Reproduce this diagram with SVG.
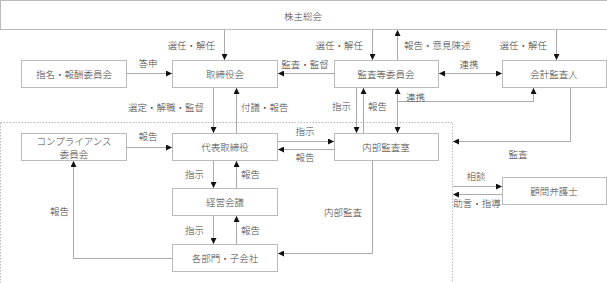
<svg xmlns="http://www.w3.org/2000/svg" width="607" height="283" viewBox="0 0 607 283">
<defs>
<marker id="ah" markerUnits="userSpaceOnUse" markerWidth="6" markerHeight="6" refX="6" refY="3" orient="auto">
<path d="M0,0 L6,3 L0,6 z" fill="#111"/>
</marker>
<marker id="as" markerUnits="userSpaceOnUse" markerWidth="6" markerHeight="6" refX="0" refY="3" orient="auto">
<path d="M6,0 L0,3 L6,6 z" fill="#111"/>
</marker>
<style>
.box{fill:#fff;stroke:#bbb;stroke-width:1}
.t{font-family:"Noto Sans CJK JP","Noto Sans CJK SC",sans-serif;font-size:9.5px;font-weight:300;fill:#444;text-anchor:middle;dominant-baseline:central}
.l{font-family:"Noto Sans CJK JP","Noto Sans CJK SC",sans-serif;font-size:9.5px;font-weight:300;fill:#444;dominant-baseline:central}
.c{fill:none;stroke:#aaa;stroke-width:1}
.e{marker-end:url(#ah)}
.s{marker-start:url(#as)}
.d{fill:none;stroke:#bbb;stroke-width:1;stroke-dasharray:1.5,1.5}
</style>
</defs>
<rect class="d" x="0.5" y="122.5" width="452" height="170"/>
<g id="n-shareholders"><rect class="box" x="0.5" y="0.5" width="620" height="29"/><text class="t" x="303" y="16">株主総会</text></g>
<g id="n-nomination"><rect class="box" x="21.5" y="60.5" width="105" height="27"/><text class="t" x="74" y="74">指名・報酬委員会</text></g>
<g id="n-board"><rect class="box" x="172.5" y="60.5" width="105" height="27"/><text class="t" x="225" y="74">取締役会</text></g>
<g id="n-audit-committee"><rect class="box" x="334.5" y="60.5" width="104" height="27"/><text class="t" x="386" y="74">監査等委員会</text></g>
<g id="n-auditor"><rect class="box" x="502.5" y="60.5" width="104" height="27"/><text class="t" x="554" y="74">会計監査人</text></g>
<g id="n-compliance"><rect class="box" x="21.5" y="133.5" width="105" height="27"/><text class="t" x="74" y="141">コンプライアンス</text><text class="t" x="74" y="153.5">委員会</text></g>
<g id="n-ceo"><rect class="box" x="172.5" y="133.5" width="105" height="27"/><text class="t" x="225" y="147">代表取締役</text></g>
<g id="n-internal-audit"><rect class="box" x="334.5" y="133.5" width="104" height="27"/><text class="t" x="386" y="147">内部監査室</text></g>
<g id="n-lawyer"><rect class="box" x="502.5" y="177.5" width="104" height="27"/><text class="t" x="554" y="191">顧問弁護士</text></g>
<g id="n-management"><rect class="box" x="172.5" y="188.5" width="105" height="27"/><text class="t" x="225" y="202">経営会議</text></g>
<g id="n-departments"><rect class="box" x="172.5" y="244.5" width="105" height="27"/><text class="t" x="225" y="258">各部門・子会社</text></g>
<g id="connectors">
<path class="c e" d="M224.5,30 V60"/>
<path class="c e" d="M372.5,30 V60"/>
<path class="c e" d="M397.5,60 V30"/>
<path class="c e" d="M556.5,30 V60"/>
<path class="c e" d="M127,73.5 H172"/>
<path class="c e" d="M334,73.5 H278"/>
<path class="c e s" d="M439,73.5 H502"/>
<path class="c e" d="M213.5,88 V133"/>
<path class="c e" d="M236.5,133 V88"/>
<path class="c e" d="M356.5,88 V133"/>
<path class="c e" d="M363.5,133 V88"/>
<path class="c e s" d="M397.5,88 V133"/>
<path class="c e" d="M397.5,101.5 H533.5 V88"/>
<path class="c e" d="M127,147.5 H172"/>
<path class="c e" d="M278,141.5 H334"/>
<path class="c e" d="M334,149.5 H278"/>
<path class="c e" d="M570.5,88 V141.5 H453"/>
<path class="c e" d="M453,186.5 H502"/>
<path class="c e" d="M502,194.5 H453"/>
<path class="c e" d="M213.5,161 V188"/>
<path class="c e" d="M236.5,188 V161"/>
<path class="c e" d="M213.5,216 V244"/>
<path class="c e" d="M236.5,244 V216"/>
<path class="c e" d="M172,258.5 H73.5 V161"/>
<path class="c e" d="M372.5,161 V253.5 H278"/>
</g>
<g id="labels">
<text class="l" x="215" y="45" text-anchor="end">選任・解任</text>
<text class="l" x="363" y="45" text-anchor="end">選任・解任</text>
<text class="l" x="404" y="45">報告・意見陳述</text>
<text class="l" x="547" y="45" text-anchor="end">選任・解任</text>
<text class="t" x="148" y="63">答申</text>
<text class="t" x="305" y="64">監査・監督</text>
<text class="t" x="469" y="64">連携</text>
<text class="l" x="204" y="107" text-anchor="end">選定・解職・監督</text>
<text class="l" x="241" y="107">付議・報告</text>
<text class="l" x="351" y="106" text-anchor="end">指示</text>
<text class="l" x="368" y="106">報告</text>
<text class="l" x="406" y="97">連携</text>
<text class="t" x="148" y="136">報告</text>
<text class="t" x="305" y="131">指示</text>
<text class="t" x="305" y="157">報告</text>
<text class="t" x="518" y="154">監査</text>
<text class="t" x="476" y="176">相談</text>
<text class="t" x="477" y="203">助言・指導</text>
<text class="l" x="204" y="174" text-anchor="end">指示</text>
<text class="l" x="241" y="174">報告</text>
<text class="l" x="204" y="230" text-anchor="end">指示</text>
<text class="l" x="241" y="230">報告</text>
<text class="l" x="69" y="211" text-anchor="end">報告</text>
<text class="l" x="362" y="212" text-anchor="end">内部監査</text>
</g>
</svg>
